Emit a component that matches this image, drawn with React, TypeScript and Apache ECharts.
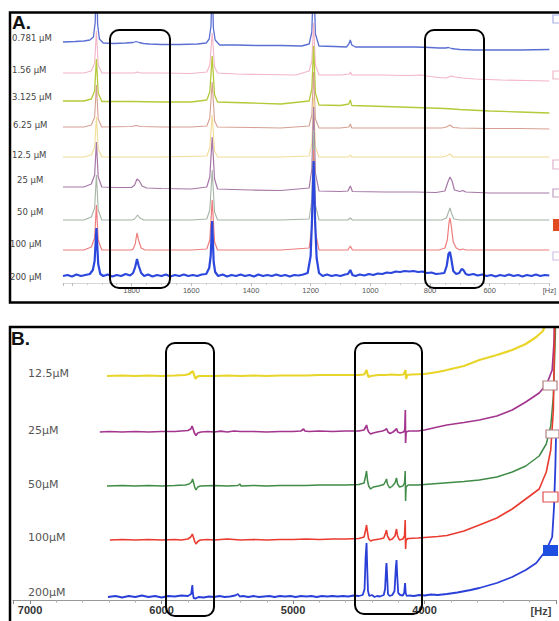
import React, { useEffect, useRef } from 'react';
import * as echarts from 'echarts';

// ---------- Panel A data (Hz, relative intensity in px units) ----------
const labelsA = ['0.781 µM', '1.56 µM', '3.125 µM', '6.25 µM', '12.5 µM', '25 µM', '50 µM', '100 µM', '200 µM'];
const colorsA = ['#5b6fd2', '#f2b4c6', '#b6c93a', '#d6a091', '#f2dc96', '#a677a7', '#a5b4a5', '#ee7d7d', '#2b47dc'];
const widthsA = [1.3, 1.1, 1.3, 1.1, 1.1, 1.2, 1.1, 1.2, 2.2];
const offsetsA = [241, 210, 182, 156, 126, 96, 63, 33, 7];
const axisTicksA = [1800, 1600, 1400, 1200, 1000, 800, 600];

const traceA0781 = [[2030,0],[1990,0.5],[1960,1],[1940,2],[1928,5],[1922,20],[1918,70],[1914,18],[1908,3],[1895,-1],[1860,-1.5],[1820,-1],[1795,-0.5],[1785,0.5],[1775,-0.5],[1760,-1.5],[1740,-2],[1700,-2.5],[1640,-2.5],[1580,-2],[1550,-1],[1540,3],[1534,16],[1530,60],[1526,14],[1520,2],[1505,-3],[1450,-3],[1380,-3.5],[1300,-3.5],[1230,-4],[1205,-2],[1196,10],[1190,70],[1184,8],[1172,-4],[1120,-4.5],[1080,-5],[1072,-2],[1067,2],[1062,-3],[1050,-5],[980,-5],[900,-5],[850,-5],[800,-5.5],[770,-6],[748,-6],[738,-5.5],[728,-6.5],[715,-7],[700,-7.5],[650,-8],[600,-8],[500,-8],[400,-7.5]];
const traceA156 = [[2030,0],[1960,0],[1935,2],[1924,10],[1918,42],[1912,8],[1900,0],[1850,0],[1790,0],[1780,1],[1770,0],[1700,0],[1600,-0.5],[1548,1],[1538,8],[1530,40],[1522,6],[1512,0],[1450,-1],[1350,-1.5],[1250,-2],[1205,2],[1196,12],[1190,50],[1184,8],[1172,-2],[1100,-2],[1070,-1],[1067,1],[1062,-2],[960,-2],[880,-2.5],[830,-2],[800,-3.5],[770,-4.5],[745,-5],[730,-3],[715,-4],[690,-5],[650,-6],[560,-7],[480,-7.5],[400,-8]];
const traceA3125 = [[2030,0],[1960,0],[1935,2],[1924,10],[1918,42],[1912,8],[1900,-0.5],[1800,-0.5],[1700,-1],[1600,-1],[1548,1],[1538,9],[1530,45],[1522,6],[1512,-1],[1400,-2],[1300,-3],[1205,0],[1196,12],[1190,55],[1184,8],[1172,-4],[1100,-4.5],[1072,-3],[1067,1],[1062,-4.5],[950,-5.5],[850,-6.5],[800,-7],[750,-7.5],[700,-8.5],[600,-10],[500,-11],[400,-12]];
const traceA625 = [[2030,0],[1960,0],[1935,2],[1924,10],[1918,42],[1912,8],[1900,0],[1800,0.5],[1785,1.5],[1770,0.5],[1700,0],[1600,0],[1548,1],[1538,9],[1530,45],[1522,6],[1512,0],[1400,-0.5],[1300,-1],[1205,1],[1196,12],[1190,55],[1184,8],[1172,-1],[1100,-1],[1072,0],[1067,3],[1062,-1],[950,-1],[850,-1],[760,-1],[745,0],[733,2],[722,-0.5],[700,-1],[600,-1.5],[500,-1.5],[400,-2]];
const traceA125 = [[2030,0],[1960,0],[1935,2],[1924,10],[1918,40],[1912,8],[1900,0],[1700,0],[1548,1],[1538,9],[1530,42],[1522,6],[1512,0],[1300,0],[1205,1],[1196,14],[1190,60],[1184,10],[1172,0],[1072,0],[1067,2],[1062,0],[760,0],[745,1],[733,3],[722,0],[500,0],[400,0]];
const traceA25 = [[2030,0],[1960,0],[1935,3],[1924,12],[1918,45],[1912,10],[1900,0],[1850,-0.5],[1800,-0.5],[1790,2],[1782,8],[1774,6],[1765,1],[1750,-1],[1700,-1.5],[1600,-2],[1548,0],[1538,10],[1530,50],[1522,8],[1512,-2],[1400,-3],[1300,-3.5],[1205,-1],[1196,18],[1190,80],[1184,14],[1172,-4],[1100,-4.5],[1075,-4],[1067,1],[1060,-4.5],[950,-5],[850,-5],[780,-5.5],[750,-4],[740,5],[733,10],[726,6],[718,-3],[700,-4.5],[690,-3.5],[680,-5],[600,-6],[500,-6],[400,-6]];
const traceA50 = [[2030,0],[1960,0],[1935,3],[1924,12],[1918,45],[1912,10],[1900,0],[1800,0],[1790,1],[1780,5],[1772,2],[1760,0],[1600,0],[1548,1],[1538,10],[1530,50],[1522,8],[1512,0],[1300,0],[1205,1],[1196,20],[1190,90],[1184,15],[1172,0],[1075,0],[1067,2],[1060,0],[760,0],[745,2],[738,8],[733,12],[728,7],[720,1],[700,0],[600,0],[400,0]];
const traceA100 = [[2030,0],[1960,0],[1935,3],[1924,12],[1918,45],[1912,10],[1900,0],[1800,0],[1795,1],[1788,6],[1782,17],[1776,9],[1768,2],[1755,0],[1600,0],[1548,1],[1538,10],[1530,50],[1522,8],[1512,0],[1300,0],[1205,2],[1196,22],[1190,100],[1184,18],[1172,0],[1075,0],[1067,4],[1060,0],[770,0],[750,2],[742,10],[736,28],[733,32],[729,25],[722,8],[712,2],[700,0],[690,1],[680,0],[600,0],[400,0]];
const traceA200 = [[2030,0],[2015,1],[2000,-0.5],[1985,1.5],[1970,0],[1955,1],[1940,2],[1930,6],[1924,15],[1918,48],[1912,12],[1905,2],[1895,0],[1880,1.5],[1865,-0.5],[1850,1],[1835,0],[1820,2],[1805,0.5],[1795,3],[1788,9],[1782,17],[1776,10],[1768,3],[1758,0],[1745,1.5],[1730,-0.5],[1715,1],[1700,0],[1685,1.5],[1670,-0.5],[1655,1],[1640,0],[1625,1.5],[1610,0],[1595,1],[1580,0],[1565,1.5],[1550,2],[1540,8],[1535,20],[1530,55],[1525,14],[1520,4],[1510,0],[1495,1.5],[1480,-0.5],[1465,1],[1450,0],[1435,1.5],[1420,0],[1405,1],[1390,-0.5],[1375,1.5],[1360,0],[1345,1],[1330,0],[1315,1.5],[1300,0],[1285,1],[1270,-0.5],[1255,1],[1240,0.5],[1225,1.5],[1210,3],[1200,20],[1195,60],[1190,115],[1185,55],[1180,18],[1172,3],[1160,0],[1145,1.5],[1130,0],[1115,1],[1100,0],[1085,1.5],[1075,2],[1067,6],[1060,1],[1050,0],[1035,1.5],[1020,0.5],[1005,2],[990,1],[975,2.5],[960,2],[945,3.5],[930,3],[915,4.5],[900,4],[885,5],[870,4.5],[855,5],[840,4],[825,4.5],[810,3],[795,3.5],[780,2],[765,2.5],[752,3],[744,10],[738,22],[733,24],[728,16],[722,5],[712,2],[702,3],[694,7],[688,6],[680,2],[670,1],[655,2],[640,0.5],[625,1.5],[610,0],[595,1],[580,-0.5],[565,1],[550,0],[535,1.5],[520,0],[505,1],[490,-0.5],[475,1],[460,0],[445,1.5],[430,0],[415,1],[400,0.5]];
const tracesA = [traceA0781, traceA156, traceA3125, traceA625, traceA125, traceA25, traceA50, traceA100, traceA200];

// ---------- Panel B data ----------
const labelsB = ['12.5µM', '25µM', '50µM', '100µM', '200µM'];
const colorsB = ['#e9d52a', '#a3358f', '#3f8b47', '#ea3b30', '#2a3fd8'];
const widthsB = [2.2, 1.7, 1.5, 1.6, 1.8];
const offsetsB = [224, 168, 114, 60, 3];
const axisTicksB = [7000, 6000, 5000, 4000];

const traceB125 = [[6415,0],[6300,0.5],[6200,0],[6100,0.5],[6000,0],[5900,0.5],[5820,1],[5790,2],[5770,4],[5762,5],[5752,1],[5742,-3],[5732,-1],[5715,0],[5600,0],[5500,0.5],[5400,0],[5300,0.5],[5200,0],[5100,0.5],[5000,0.5],[4900,0.5],[4800,1],[4700,1],[4600,1],[4500,1],[4460,1.5],[4448,4],[4441,6],[4434,2],[4425,-1],[4410,0],[4350,1],[4300,1],[4250,1.5],[4200,1],[4160,1.5],[4150,4],[4145,6],[4140,-3],[4132,1],[4100,1.5],[4000,2],[3900,4],[3830,6],[3700,10],[3583,16],[3450,21],[3333,26],[3230,32],[3150,39],[3100,45],[3074,53],[3050,62],[3030,80],[3010,110]];
const traceB25 = [[6470,0],[6400,0.5],[6300,0],[6200,0.5],[6100,0],[6000,0.5],[5900,0.5],[5850,1],[5800,1.5],[5778,3],[5768,6],[5760,3],[5750,-1],[5738,-3.5],[5725,-1],[5700,0],[5650,0.5],[5600,0],[5550,0.8],[5500,0],[5450,1],[5400,0.5],[5300,0.5],[5200,0],[5100,0.5],[5000,0.5],[4940,1],[4920,3],[4910,1],[4880,0.5],[4800,1],[4700,0.5],[4600,1],[4500,1],[4460,2],[4448,5],[4441,7],[4434,3],[4425,0],[4410,-2],[4390,-1],[4360,0],[4320,1],[4300,2],[4289,3.5],[4278,0],[4262,-1.5],[4240,0],[4222,2],[4213,3.5],[4204,0],[4185,-1],[4160,0],[4150,2],[4146,22],[4144,-11],[4140,0],[4120,1],[4050,1],[4000,2],[3900,5],[3830,7],[3700,9.5],[3583,12],[3450,16],[3333,22],[3230,30],[3128,39],[3070,48],[3029,62],[3015,90],[3005,170]];
const traceB50 = [[6415,0],[6300,0.5],[6200,0],[6100,0.5],[6000,0],[5900,0.5],[5820,1],[5790,2],[5772,4],[5764,7],[5756,3],[5748,-1],[5738,-4],[5725,-1],[5705,0],[5600,0.5],[5500,0],[5420,0.5],[5405,2],[5395,0],[5300,0.5],[5200,0],[5100,0.5],[5000,0.5],[4900,0.5],[4800,1],[4700,1],[4600,1],[4500,1.5],[4460,3],[4448,10],[4441,15],[4434,6],[4425,0],[4410,-3],[4390,-1],[4350,0],[4310,1.5],[4296,5],[4289,7],[4282,2],[4265,-2],[4245,0],[4225,3],[4213,8],[4205,2],[4190,-1],[4165,0],[4152,3],[4147,15],[4144,-15],[4140,-1],[4125,1],[4050,1],[4000,1.5],[3900,2.5],[3800,3.5],[3700,4.5],[3583,6],[3450,9],[3333,14],[3230,20],[3128,30],[3074,42],[3040,60],[3020,90],[3005,150],[3000,200]];
const traceB100 = [[6393,0],[6300,0.5],[6200,0],[6100,0.5],[6000,0],[5900,0.5],[5850,0],[5800,1],[5778,3],[5766,6],[5756,2],[5748,-1.5],[5738,-4],[5725,-1.5],[5705,0],[5650,0.5],[5600,0],[5550,0.5],[5500,1],[5450,0.5],[5400,0],[5300,0.5],[5200,0],[5100,0.5],[5000,0.5],[4900,1],[4800,0.5],[4700,1],[4600,1],[4500,1.5],[4460,3],[4448,10],[4441,15],[4434,8],[4425,1],[4410,-1],[4390,0],[4340,1],[4310,2],[4296,7],[4289,10],[4282,4],[4265,0],[4245,1],[4225,4],[4213,11],[4205,4],[4190,0],[4165,1],[4152,4],[4147,20],[4144,-9],[4140,0],[4125,1.5],[4050,2],[4000,2.5],[3900,3.5],[3830,4.5],[3700,9],[3583,15],[3450,22],[3333,31],[3230,41],[3128,51],[3074,68],[3040,90],[3020,130],[3005,250]];
const traceB200 = [[6408,0],[6350,1],[6300,-0.5],[6250,1],[6200,0],[6150,1.5],[6100,0],[6050,1],[6000,-0.5],[5950,1],[5900,0.5],[5850,1.5],[5800,1],[5775,3],[5766,12],[5762,4],[5756,-1],[5740,-1.5],[5720,0],[5680,-0.5],[5640,0.5],[5600,0],[5560,1],[5520,0],[5480,0.5],[5440,1.5],[5420,3],[5405,0.5],[5380,1],[5340,0],[5300,1],[5260,0],[5220,0.5],[5180,1],[5140,0],[5100,1],[5060,0.5],[5020,1],[4980,0],[4940,1],[4900,0.5],[4860,1],[4820,0],[4780,1],[4740,0.5],[4700,1],[4660,0.5],[4620,1],[4580,0.5],[4540,1.5],[4500,1],[4470,2],[4456,8],[4448,40],[4441,54],[4436,30],[4430,6],[4420,1],[4400,2],[4380,0],[4360,1],[4340,0.5],[4310,2],[4300,8],[4292,30],[4289,34],[4284,20],[4278,3],[4265,1],[4245,2],[4228,6],[4218,30],[4213,37],[4208,22],[4200,4],[4185,2],[4165,1.5],[4155,4],[4148,14],[4143,4],[4135,1],[4120,1.5],[4080,1],[4040,2],[4000,1.5],[3950,2.5],[3900,2],[3830,3],[3750,4.5],[3650,7],[3583,9],[3450,14],[3333,20],[3230,27],[3150,34],[3074,47],[3029,60],[3015,90],[3005,130],[3000,160]];
const tracesB = [traceB125, traceB25, traceB50, traceB100, traceB200];

function buildOption() {
  const seriesA = tracesA.map((tr, i) => ({
    type: 'line', xAxisIndex: 0, yAxisIndex: 0, symbol: 'none', silent: true, clip: true,
    data: tr.map(([h, d]) => [h, offsetsA[i] + d]),
    lineStyle: { color: colorsA[i], width: widthsA[i] },
    z: 2 + i,
  }));
  const seriesB = tracesB.map((tr, i) => ({
    type: 'line', xAxisIndex: 1, yAxisIndex: 1, symbol: 'none', silent: true, clip: true,
    data: tr.map(([h, d]) => [h, offsetsB[i] + d]),
    lineStyle: { color: colorsB[i], width: widthsB[i] },
    z: 2 + i,
  }));

  const labelYA = [38, 70, 97, 125, 155, 180, 212, 244, 277];
  const labelXA = [12, 12, 12, 13, 12, 17, 17, 10, 10];
  const labelYB = [373, 430, 484, 537, 592];

  const graphic: any[] = [];
  labelsA.forEach((t, i) => graphic.push({
    type: 'text', x: labelXA[i], y: labelYA[i], z: 120,
    style: { text: t, fontSize: 8.5, fontFamily: 'DejaVu Sans', fill: '#444', align: 'left', verticalAlign: 'middle' },
  }));
  labelsB.forEach((t, i) => graphic.push({
    type: 'text', x: 28, y: labelYB[i], z: 120,
    style: { text: t, fontSize: 11, fontFamily: 'DejaVu Sans', fill: '#555', align: 'left', verticalAlign: 'middle' },
  }));
  graphic.push({ type: 'text', x: 12, y: 13, z: 120, style: { text: 'A.', fontSize: 19, fontWeight: 'bold', fontFamily: 'Liberation Sans', fill: '#111', align: 'left', verticalAlign: 'top' } });
  graphic.push({ type: 'text', x: 11, y: 329, z: 120, style: { text: 'B.', fontSize: 19, fontWeight: 'bold', fontFamily: 'Liberation Sans', fill: '#111', align: 'left', verticalAlign: 'top' } });
  graphic.push({ type: 'text', x: 541, y: 611, z: 120, style: { text: '[Hz]', fontSize: 11, fontWeight: 'bold', fontFamily: 'Liberation Sans', fill: '#444', align: 'center', verticalAlign: 'middle' } });
  // frames
  graphic.push({ type: 'rect', z: 110, shape: { x: 10, y: 12.5, width: 560, height: 290 }, style: { fill: 'none', stroke: '#000', lineWidth: 2.5 } });
  graphic.push({ type: 'rect', z: 110, shape: { x: 10, y: 327, width: 560, height: 310 }, style: { fill: 'none', stroke: '#000', lineWidth: 2.5 } });
  // rounded highlight boxes
  const boxes = [[110, 30, 60, 258], [425, 30, 59, 258], [166, 343, 48, 273], [355, 343, 67, 271]];
  boxes.forEach(([x, y, w, h]) => graphic.push({ type: 'rect', z: 115, shape: { x, y, width: w, height: h, r: 9 }, style: { fill: 'none', stroke: '#000', lineWidth: 2 } }));
  // cut-off legend markers at the right edge
  const marks: [number, number, number, number, string, boolean][] = [
    [553, 15, 10, 8, '#a8b0e8', false], [553, 71, 10, 8, '#f0b8c8', false], [553, 160, 10, 9, '#e0b0c8', false],
    [553, 189, 10, 8, '#c0a0c0', false], [553, 219, 10, 12, '#e24a22', true], [553, 252, 10, 8, '#d0c0e0', false],
    [543, 381, 14, 9, '#b08080', false], [546, 430, 13, 8, '#b08080', false], [543, 492, 15, 10, '#e05050', false], [543, 545, 15, 11, '#1f4fe0', true],
  ];
  marks.forEach(([x, y, w, h, c, f]) => graphic.push({ type: 'rect', z: 105, shape: { x, y, width: w, height: h }, style: f ? { fill: c } : { fill: '#fff', stroke: c, lineWidth: 1.2 } }));

  return {
    animation: false,
    backgroundColor: '#fff',
    grid: [
      { left: 63, right: 6, top: 14, bottom: 338 },
      { left: 13, right: 3, top: 328, bottom: 21 },
    ],
    xAxis: [
      {
        type: 'value', gridIndex: 0, inverse: true, min: 400, max: 2030, interval: 200,
        axisLine: { show: true, lineStyle: { color: '#d8d8d8', width: 1 } },
        axisTick: { show: true, length: 3, lineStyle: { color: '#bbb' } },
        minorTick: { show: true, splitNumber: 4, length: 2, lineStyle: { color: '#ccc' } },
        splitLine: { show: false },
        axisLabel: {
          fontSize: 7.5, color: '#555', margin: 3, fontFamily: 'Liberation Sans', showMaxLabel: false,
          formatter: (v: number) => (v === 400 ? '[Hz]' : axisTicksA.includes(v) ? String(v) : ''),
        },
      },
      {
        type: 'value', gridIndex: 1, inverse: true, min: 3000, max: 7130, interval: 1000,
        axisLine: { show: true, lineStyle: { color: '#999', width: 1 } },
        axisTick: { show: true, length: 4, lineStyle: { color: '#888' } },
        minorTick: { show: true, splitNumber: 5, length: 2.5, lineStyle: { color: '#aaa' } },
        splitLine: { show: false },
        axisLabel: {
          fontSize: 11, fontWeight: 'bold', color: '#333', margin: 4, fontFamily: 'Liberation Sans', showMaxLabel: false, showMinLabel: false,
          formatter: (v: number) => (axisTicksB.includes(v) ? String(v) : ''),
        },
      },
    ],
    yAxis: [
      { type: 'value', gridIndex: 0, min: 0, max: 269, show: false },
      { type: 'value', gridIndex: 1, min: 0, max: 272, show: false },
    ],
    series: [...seriesA, ...seriesB],
    graphic,
  };
}

export default function App() {
  const ref = useRef<HTMLDivElement>(null);
  useEffect(() => {
    const chart = echarts.init(ref.current!, null, { renderer: 'svg' });
    chart.setOption(buildOption() as any);
    return () => chart.dispose();
  }, []);
  return <div ref={ref} style={{ position: 'fixed', left: 0, top: 0, width: 559, height: 621, background: '#fff' }} />;
}
